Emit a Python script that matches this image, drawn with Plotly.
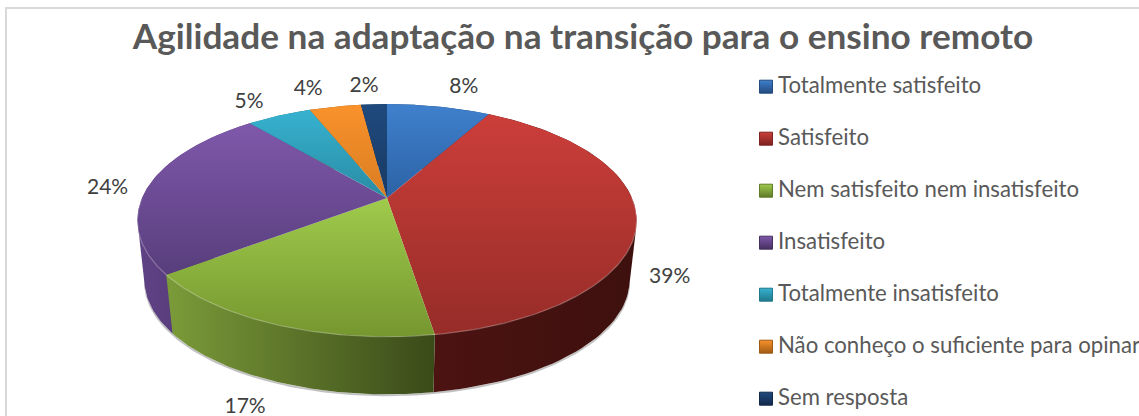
import numpy as np
import plotly.graph_objects as go

# ---- data ----
title = "Agilidade na adaptação na transição para o ensino remoto"
categories = ["Totalmente satisfeito", "Satisfeito", "Nem satisfeito nem insatisfeito",
              "Insatisfeito", "Totalmente insatisfeito",
              "Não conheço o suficiente para opinar", "Sem resposta"]
values = [8, 39, 17, 24, 5, 4, 2]
value_labels = ["8%", "39%", "17%", "24%", "5%", "4%", "2%"]

# ---- style ----
top_colors = [("#3f80cd", "#2c62a4"), ("#cc3e3a", "#962c28"), ("#9fcb4c", "#76962f"),
              ("#7f58ab", "#583e7c"), ("#36b2d0", "#2a8ba3"), ("#f9922b", "#d97d22"),
              ("#1f4a7e", "#183a63")]
side_colors = [("#1c3f6b", "#1c3f6b"), ("#4c1311", "#3d100e"), ("#7b9b39", "#3a4a19"),
               ("#5f4285", "#4b346c"), ("#1f6f82", "#1f6f82"), ("#9c5a16", "#9c5a16"),
               ("#12294a", "#12294a")]
legend_dark = ["#234a7d", "#7c2220", "#5f7a28", "#46305f", "#20788c", "#a05a14", "#14294a"]
label_offsets = [(25, -19), (33, 60), (-31, 83), (-41, 3), (-30, -13), (-27, -17), (-10, -18)]
legend_y = [86.7, 138.7, 190.7, 242.7, 294.7, 346.7, 398.7]
wall_order = [4, 5, 6, 0, 3, 1, 2]  # far walls first, near walls last
LEGEND_X = 766
LEGEND_TEXT_X = 778
LEGEND_TEXT_SHIFT = 1
FONT = "Lato"


def project(theta, cx=387, cy=198, rx=245, sy=112, k=0.193):
    """Perspective view of a unit disc, theta clockwise from the back of the disc."""
    u, v = np.sin(theta), np.cos(theta)
    w = 1 + k * v
    return cx + rx * u / w, cy - sy * v / w


def project_bottom(theta):
    return project(theta, cx=387, cy=258, rx=238, sy=110)


def hull(x, y):
    """Convex hull of a wall, so its outline follows the tangent between rim and base."""
    pts = sorted(set(zip(np.round(x, 3).tolist(), np.round(y, 3).tolist())))

    def half(points):
        out = []
        for p in points:
            while len(out) >= 2 and ((out[-1][0] - out[-2][0]) * (p[1] - out[-2][1])
                                     - (out[-1][1] - out[-2][1]) * (p[0] - out[-2][0])) <= 0:
                out.pop()
            out.append(p)
        return out[:-1]

    ring = half(pts) + half(pts[::-1])
    ring.append(ring[0])
    return [p[0] for p in ring], [p[1] for p in ring]


total = sum(values)
edges = 2 * np.pi * np.cumsum([0] + values) / total
fig = go.Figure()

# soft shadow under the disc
th = np.linspace(np.pi * 0.45, np.pi * 1.6, 200)
sx, sy_ = project(th, cx=387, cy=260, rx=238.5, sy=110)
bx, by = project_bottom(th)
fig.add_trace(go.Scatter(x=np.r_[sx, bx[::-1]], y=np.r_[sy_, by[::-1]], mode="lines", fill="toself",
                         fillcolor="rgba(120,120,120,0.45)", line=dict(width=0), hoverinfo="skip",
                         showlegend=False))

# outer wall of each slice
for i in wall_order:
    th = np.linspace(edges[i], edges[i + 1], 80)
    x1, y1 = project(th)
    x2, y2 = project_bottom(th)
    hx, hy = hull(np.r_[x1, x2], np.r_[y1, y2])
    c0, c1 = side_colors[i]
    fig.add_trace(go.Scatter(
        x=hx, y=hy, mode="lines", fill="toself",
        fillgradient=dict(type="horizontal", colorscale=[[0, c0], [1, c1]],
                          start=min(hx), stop=max(hx)),
        line=dict(width=0), hoverinfo="skip", showlegend=False))

# top face of each slice
for i in range(len(values)):
    th = np.linspace(edges[i], edges[i + 1], 120)
    x1, y1 = project(th)
    cx0, cy0 = project(np.array([0.0]), rx=0, sy=0)
    xs, ys = np.r_[cx0, x1, cx0], np.r_[cy0, y1, cy0]
    c0, c1 = top_colors[i]
    fig.add_trace(go.Scatter(
        x=xs, y=ys, mode="lines", fill="toself",
        fillgradient=dict(type="vertical", colorscale=[[0, c0], [1, c1]],
                          start=float(ys.min()), stop=float(ys.max())),
        line=dict(width=0), name=categories[i], hoverinfo="name", showlegend=False))

# pale rim along the near edge
th = np.linspace(np.pi * 0.5, np.pi * 1.5, 200)
rx_, ry_ = project(th)
fig.add_trace(go.Scatter(x=rx_, y=ry_, mode="lines", line=dict(color="rgba(255,255,255,0.28)", width=1.2),
                         hoverinfo="skip", showlegend=False))

# value labels
mids = (edges[:-1] + edges[1:]) / 2
lx, ly = project(mids)
fig.add_trace(go.Scatter(
    x=lx + np.array([o[0] for o in label_offsets]), y=ly + np.array([o[1] for o in label_offsets]),
    mode="text", text=value_labels, textposition="middle center",
    textfont=dict(family=FONT, size=21, color="#404040"), hoverinfo="skip", showlegend=False))

# legend
fig.add_trace(go.Scatter(
    x=[LEGEND_X] * len(categories), y=legend_y, mode="markers",
    marker=dict(symbol="square", size=13, color=[c[0] for c in top_colors],
                gradient=dict(type="vertical", color=legend_dark),
                line=dict(color=legend_dark, width=1)),
    hoverinfo="skip", showlegend=False))
fig.add_trace(go.Scatter(
    x=[LEGEND_TEXT_X] * len(categories), y=[v + LEGEND_TEXT_SHIFT for v in legend_y],
    mode="text", text=categories, textposition="middle right", cliponaxis=False,
    textfont=dict(family=FONT, size=22.2, color="#595959"), hoverinfo="skip", showlegend=False))

fig.update_layout(
    width=1139, height=416, margin=dict(l=0, r=0, t=0, b=0),
    paper_bgcolor="white", plot_bgcolor="white", showlegend=False,
    xaxis=dict(range=[0, 1139], visible=False, fixedrange=True),
    yaxis=dict(range=[416, 0], visible=False, fixedrange=True),
    title=dict(text="<b>" + title + "</b>", x=583 / 1139, xanchor="center", y=1 - 37 / 416, yanchor="middle",
               font=dict(family=FONT, size=35.2, color="#595959")),
    shapes=[dict(type="rect", xref="x", yref="y", x0=6, x1=1150, y0=8, y1=430,
                 line=dict(color="#d9d9d9", width=2), layer="below")],
)
fig.write_html("out.html", post_script="document.body.style.margin='0';document.body.style.overflow='hidden';",
               config={"displayModeBar": False})
